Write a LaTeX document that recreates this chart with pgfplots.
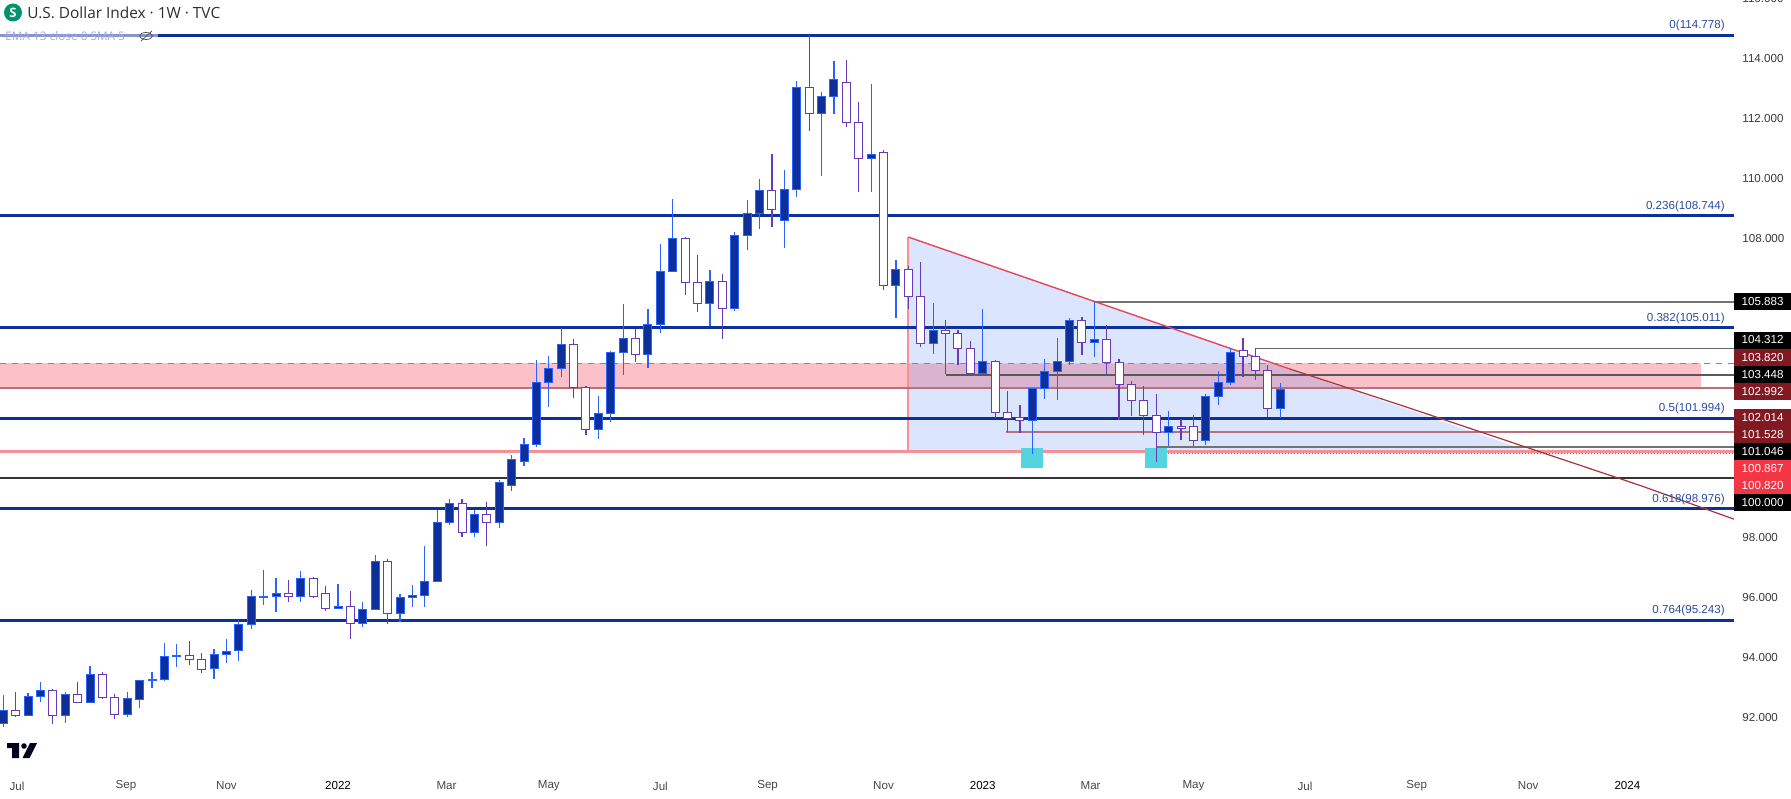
\documentclass[border=0pt]{standalone}
\usepackage{fontspec}
\usepackage{pgfplots}
\usepackage{pgfplotstable}
\pgfplotsset{compat=1.18}
\setmainfont{Liberation Sans}
\newfontfamily\titlefont{Open Sans}

\definecolor{fib}{HTML}{0C3299}
\definecolor{fibtext}{HTML}{2A4AA0}
\definecolor{upbody}{HTML}{0D2F99}
\definecolor{upedge}{HTML}{2962FF}
\definecolor{downedge}{HTML}{673AB7}
\definecolor{zone}{HTML}{FCC1C8}
\definecolor{zonemix}{HTML}{DAB3CF}
\definecolor{tri}{HTML}{DBE5FD}
\definecolor{rose}{HTML}{BA7079}
\definecolor{pinkline}{HTML}{F98F96}
\definecolor{tagred}{HTML}{801922}
\definecolor{taghot}{HTML}{F23645}
\definecolor{cyansq}{HTML}{56D3E0}
\definecolor{trendhot}{HTML}{E2485A}
\definecolor{trenddark}{HTML}{A8323E}

% i = week number, top/bot = candle body, hi/lo = wick ends
\pgfplotstableread{
i top bot hi lo
0 92.24 91.80 92.75 91.69
2 92.70 92.06 92.80 92.06
3 92.90 92.70 93.18 92.52
5 92.77 92.06 92.85 91.82
7 93.44 92.50 93.72 92.50
10 92.64 92.09 92.85 92.02
11 93.24 92.60 93.24 92.32
12 93.26 93.24 93.52 92.99
13 94.04 93.26 94.48 93.22
14 94.06 94.04 94.45 93.69
17 94.11 93.64 94.28 93.29
18 94.21 94.11 94.62 93.83
19 95.11 94.24 95.25 93.89
20 96.04 95.11 96.25 94.96
21 96.04 96.02 96.92 95.76
22 96.14 96.04 96.65 95.53
24 96.65 96.04 96.89 95.86
27 95.71 95.64 96.46 95.64
29 95.61 95.14 95.85 95.03
30 97.21 95.61 97.42 95.61
32 96.01 95.48 96.12 95.20
33 96.08 96.01 96.42 95.70
34 96.55 96.08 97.72 95.70
35 98.52 96.55 98.93 96.55
36 99.13 98.52 99.29 98.43
38 98.79 98.19 98.93 98.02
40 99.86 98.52 99.93 98.33
41 100.60 99.76 100.76 99.56
42 101.12 100.53 101.33 100.40
43 103.19 101.11 103.94 101.03
44 103.66 103.19 104.07 102.38
45 104.46 103.66 104.99 103.38
48 102.16 101.62 102.73 101.31
49 104.19 102.16 104.24 101.87
50 104.66 104.19 105.81 103.44
52 105.13 104.13 105.64 103.68
53 106.90 105.13 107.81 104.85
54 108.00 106.90 109.31 106.90
57 106.56 105.83 106.94 105.08
59 108.10 105.66 108.21 105.58
60 108.83 108.10 109.28 107.61
61 109.60 108.83 109.98 108.32
63 109.64 108.59 110.28 107.69
64 113.04 109.64 113.25 109.39
66 112.74 112.17 112.88 110.09
67 113.31 112.74 113.92 112.16
70 110.80 110.67 113.15 109.55
72 106.96 106.42 107.27 105.35
75 104.93 104.48 105.84 104.15
79 103.88 103.48 105.64 103.48
83 102.99 101.92 102.99 100.80
84 103.56 102.99 103.97 102.63
85 103.89 103.54 104.67 102.61
86 105.26 103.89 105.34 103.77
88 104.63 104.53 105.91 104.05
94 101.71 101.53 102.23 101.06
97 102.70 101.26 102.80 101.10
98 103.18 102.70 103.57 102.43
99 104.20 103.18 104.34 103.10
103 102.95 102.30 103.18 102.00
}\updata

\pgfplotstableread{
i top bot hi lo
1 92.24 92.06 92.85 92.02
4 92.90 92.06 92.94 91.79
6 92.77 92.50 93.18 92.50
8 93.44 92.66 93.52 92.62
9 92.67 92.09 92.78 91.96
15 94.07 93.94 94.55 93.76
16 93.94 93.61 94.15 93.49
23 96.14 96.04 96.59 95.86
25 96.65 96.04 96.69 96.00
26 96.14 95.64 96.39 95.56
28 95.71 95.14 96.22 94.63
31 97.21 95.48 97.29 95.13
37 99.13 98.19 99.29 98.02
39 98.79 98.52 99.19 97.72
46 104.46 103.02 104.64 102.68
47 103.02 101.62 103.07 101.44
51 104.66 104.13 104.96 103.87
55 108.00 106.53 108.04 106.11
56 106.53 105.83 107.44 105.55
58 106.56 105.66 106.81 104.65
62 109.60 108.97 110.81 108.39
65 113.04 112.17 114.79 111.59
68 113.21 111.87 113.95 111.73
69 111.87 110.67 112.55 109.56
71 110.85 106.42 110.95 106.27
73 106.96 106.05 107.07 105.64
74 106.06 104.48 107.21 104.38
76 104.93 104.81 105.27 103.48
77 104.83 104.33 104.94 103.78
78 104.33 103.48 104.57 103.41
80 103.89 102.19 103.94 101.99
81 102.19 101.97 102.90 101.54
82 102.00 101.91 102.43 101.51
87 105.26 104.53 105.37 104.10
89 104.63 103.85 105.10 103.46
90 103.86 103.12 103.97 101.93
91 103.12 102.59 103.23 102.08
92 102.59 102.08 103.07 101.43
93 102.08 101.53 102.80 100.53
95 101.71 101.65 101.97 101.26
96 101.70 101.26 102.10 101.06
100 104.25 104.04 104.67 103.37
101 104.04 103.57 104.34 103.27
102 103.57 102.30 103.77 102.03
}\downdata

\newcommand{\chartfont}{\fontsize{5.8}{7}\selectfont}

% candle body, \bh is the height in pt handed over per point
\pgfdeclareplotmark{candle}{%
  \pgfpathrectangle{\pgfpoint{-2pt}{0pt}}{\pgfpoint{4pt}{-\bh pt}}%
  \pgfusepathqfillstroke}

\pgfplotsset{
  wick/.style={draw=none, forget plot, error bars/.cd, y dir=both, y explicit,
    error mark=none, error bar style={draw=#1, line width=.6pt, solid}},
  body/.style 2 args={scatter, only marks, forget plot, mark=candle,
    visualization depends on={(\thisrow{top}-\thisrow{bot})*14.973 \as \bh},
    scatter/use mapped color={draw=#1, fill=#2, line width=.5pt, solid}},
  level/.style={forget plot, no markers},
}

\newcommand{\pricetag}[3]{\node[fill=#2, text=white, font=\chartfont, minimum width=28.2pt,
  minimum height=8.5pt, inner sep=0pt, anchor=west] at (axis cs:139.6,#1) {#3};}
\newcommand{\fiblabel}[2]{\node[anchor=south east, inner sep=0pt, yshift=1.8pt, text=fibtext,
  font=\chartfont] at (axis cs:138.88,#1) {#2};}

\begin{document}
\begin{tikzpicture}
\useasboundingbox (0,-13pt) rectangle (895.5pt,386pt);
\begin{axis}[
  at={(0,0)}, anchor=south west,
  scale only axis, width=867pt, height=391pt,
  xmin=-0.266, xmax=139.6, ymin=90.177, ymax=116.291,
  axis line style={draw=none},
  clip=false,
  major tick length=0pt,
  ytick pos=right, xtick pos=bottom,
  yticklabel pos=right,
  ytick={92,94,96,98,108,110,112,114,116},
  yticklabels={92.000,94.000,96.000,98.000,108.000,110.000,112.000,114.000,116.000},
  yticklabel style={font=\chartfont, text=black!78, anchor=west, inner sep=0pt, xshift=4pt},
  xtick={1.1,9.9,18,27,35.75,44,53,61.65,71,79,87.7,96,105,114,123,131},
  xticklabels={Jul,Sep,Nov,\textcolor{black}{2022},Mar,May,Jul,Sep,Nov,\textcolor{black}{2023},Mar,May,Jul,Sep,Nov,\textcolor{black}{2024}},
  xticklabel style={font=\chartfont, text=black!72, anchor=center, inner sep=0pt, yshift=-7pt},
]
% zone and triangle
\addplot[level, fill=zone, draw=none] coordinates {(-0.266,103.82)(136.9,103.82)(136.9,102.992)(-0.266,102.992)};
\addplot[level, fill=tri, draw=none] coordinates {(73,108.04)(123.2,100.867)(73,100.867)};
\addplot[level, fill=zonemix, draw=none] coordinates {(73,103.82)(102.34,103.82)(108.23,102.992)(73,102.992)};
\addplot[level, draw=pinkline, line width=1pt] coordinates {(73,108.04)(73,100.867)};

% horizontal levels
\addplot[level, draw=rose, line width=.75pt, dash pattern=on 3pt off 3pt] coordinates {(-0.266,103.82)(139.6,103.82)};
\addplot[level, draw=rose, line width=1pt] coordinates {(-0.266,102.992)(139.6,102.992)};
\addplot[level, draw=pinkline, line width=1.5pt] coordinates {(-0.266,100.867)(139.6,100.867)};
\addplot[level, draw=taghot, line width=.5pt, densely dotted] coordinates {(93.2,100.82)(139.6,100.82)};
\addplot[level, draw=black!80, line width=1pt] coordinates {(-0.266,100)(139.6,100)};
\addplot[level, draw=black!55, line width=1pt] coordinates {(87.98,105.883)(139.6,105.883)};
\addplot[level, draw=black!60, line width=.5pt] coordinates {(101,104.312)(139.6,104.312)};
\addplot[level, draw=black!65, line width=1pt] coordinates {(76,103.448)(139.6,103.448)};
\addplot[level, draw=rose, line width=.75pt] coordinates {(93.4,102.014)(139.6,102.014)};
\addplot[level, draw=rose, line width=1pt] coordinates {(80.9,101.528)(139.6,101.528)};
\addplot[level, draw=black!55, line width=1pt] coordinates {(93.07,101.046)(139.6,101.046)};

\addplot[level, draw=fib!50, line width=1.5pt] coordinates {(-0.266,114.778)(12.48,114.778)};
\addplot[level, draw=fib, line width=1.5pt] coordinates {(12.48,114.778)(139.6,114.778)};
\addplot[level, draw=fib, line width=1.5pt] coordinates {(-0.266,108.744)(139.6,108.744)};
\addplot[level, draw=fib, line width=1.5pt] coordinates {(-0.266,105.011)(139.6,105.011)};
\addplot[level, draw=fib, line width=1.5pt] coordinates {(-0.266,101.994)(139.6,101.994)};
\addplot[level, draw=fib, line width=1.5pt] coordinates {(-0.266,98.976)(139.6,98.976)};
\addplot[level, draw=fib, line width=1.5pt] coordinates {(-0.266,95.243)(139.6,95.243)};

% trend line
\addplot[level, draw=trendhot, line width=.7pt] coordinates {(73,108.04)(103.8,103.63)};
\addplot[level, draw=trenddark, line width=.6pt] coordinates {(103.8,103.63)(112.7,102.43)(132,99.75)(139.6,98.62)};

% markers on the two lows
\addplot[level, fill=cyansq, draw=none] coordinates {(82.1,100.997)(83.9,100.997)(83.9,100.329)(82.1,100.329)};
\addplot[level, fill=cyansq, draw=none] coordinates {(92.1,100.997)(93.9,100.997)(93.9,100.329)(92.1,100.329)};

% candles
\addplot[wick=upedge] table[x=i, y=top, y error plus expr=\thisrow{hi}-\thisrow{top}, y error minus expr=\thisrow{top}-\thisrow{lo}] {\updata};
\addplot[wick=downedge] table[x=i, y=top, y error plus expr=\thisrow{hi}-\thisrow{top}, y error minus expr=\thisrow{top}-\thisrow{lo}] {\downdata};
\addplot[body={upedge}{upbody}] table[x=i, y=top] {\updata};
\addplot[body={downedge}{white}] table[x=i, y=top] {\downdata};

\fiblabel{114.778}{0(114.778)}
\fiblabel{108.744}{0.236(108.744)}
\fiblabel{105.011}{0.382(105.011)}
\fiblabel{101.994}{0.5(101.994)}
\fiblabel{98.976}{0.618(98.976)}
\fiblabel{95.243}{0.764(95.243)}

\pricetag{105.882}{black}{105.883}
\pricetag{104.603}{black}{104.312}
\pricetag{104.012}{tagred}{103.820}
\pricetag{103.444}{black}{103.448}
\pricetag{102.876}{tagred}{102.992}
\pricetag{102.008}{tagred}{102.014}
\pricetag{101.441}{tagred}{101.528}
\pricetag{100.873}{black}{101.046}
\pricetag{100.319}{taghot}{100.867}
\pricetag{99.751}{taghot}{100.820}
\pricetag{99.183}{black}{100.000}
\end{axis}

% header and logo, in picture pixels from the top left corner
\begin{scope}[shift={(0,386pt)}, x=.5pt, y=-.5pt]
  \fill[teal!85!green] (13,12.5) circle (9);
  \node[text=white, font=\titlefont\bfseries\fontsize{6.5}{7}\selectfont, inner sep=0pt] at (13,12.5) {S};
  \node[anchor=west, inner sep=0pt, text=black!82, font=\titlefont\fontsize{7.7}{9}\selectfont] at (27,13) {U.S. Dollar Index · 1W · TVC};
  \node[anchor=west, inner sep=0pt, text=black!30!blue!35, font=\titlefont\fontsize{5.9}{7}\selectfont] at (5,36) {EMA 13 close 0 SMA 5};
  \draw[black!70, line width=.35pt] (146,36) ellipse (6.5 and 3.5);
  \draw[black!70, line width=.35pt] (141,41) -- (152,31);
  \fill[black!88!blue] (7,743) -- (19,743) -- (19,758) -- (12,758) -- (12,748) -- (7,748) -- cycle;
  \fill[black!88!blue] (24,746) circle (2.8);
  \fill[black!88!blue] (30,743) -- (37,743) -- (29.5,758) -- (22.5,758) -- cycle;
\end{scope}
\end{tikzpicture}
\end{document}
